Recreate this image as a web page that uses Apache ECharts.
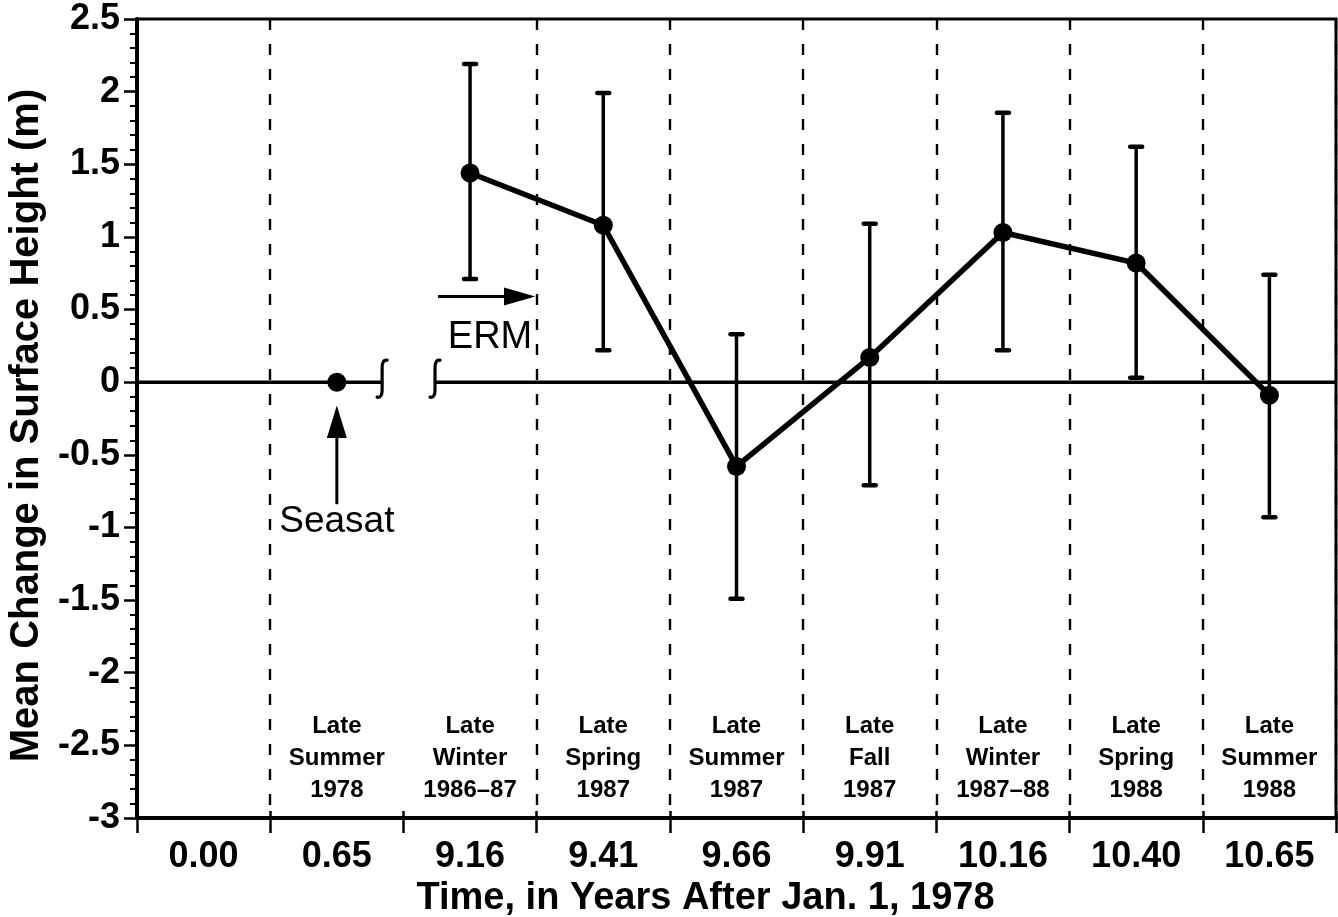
<!DOCTYPE html>
<html><head><meta charset="utf-8">
<script src="https://cdn.jsdelivr.net/npm/echarts@6/dist/echarts.min.js"></script>
<style>html,body{margin:0;padding:0;background:#fff}#c{width:1338px;height:917px}</style>
</head><body><div id="c"></div>
<script>
// ---- data ----
const categories = ['0.00', '0.65', '9.16', '9.41', '9.66', '9.91', '10.16', '10.40', '10.65'];
const seasons = ['', 'Late\nSummer\n1978', 'Late\nWinter\n1986–87', 'Late\nSpring\n1987', 'Late\nSummer\n1987',
  'Late\nFall\n1987', 'Late\nWinter\n1987–88', 'Late\nSpring\n1988', 'Late\nSummer\n1988'];
const seasatValues = [null, 0, null, null, null, null, null, null, null];
const ermValues = [null, null, 1.44, 1.08, -0.58, 0.17, 1.03, 0.82, -0.09];
const ermLow = [null, null, 0.71, 0.22, -1.49, -0.71, 0.22, 0.03, -0.93];
const ermHigh = [null, null, 2.19, 1.99, 0.33, 1.09, 1.855, 1.62, 0.74];
const yMin = -3, yMax = 2.5, yStep = 0.5;

// ---- annotation anchors (data units) ----
const breakLeft = 1.34, breakRight = 1.737;
const seasatAnno = { cat: 1, tip: -0.16, base: -0.37, tail: -0.84, label: -0.96 };
const ermAnno = { from: 1.76, headBase: 2.27, to: 2.49, y: 0.59, labelX: 2.15, labelY: 0.31 };
const seasonLabelY = -2.59;

const FONT = "'Liberation Sans', Arial, Helvetica, sans-serif";
const chart = echarts.init(document.getElementById('c'), null, { renderer: 'canvas' });

function catX(api, c) {
  const i = Math.floor(c), f = c - i;
  const a = api.coord([i, 0])[0], b = api.coord([i + 1, 0])[0];
  return a + (b - a) * f;
}

const errData = [];
ermLow.forEach((lo, i) => { if (lo != null) errData.push([i, lo, ermHigh[i]]); });

const option = {
  animation: false,
  backgroundColor: '#fff',
  grid: { left: 137, right: 2, top: 19, bottom: 99, show: true, borderColor: '#000', borderWidth: 3,
    containLabel: false, outerBoundsMode: 'none' },
  xAxis: [{
    type: 'category', data: categories, position: 'bottom', boundaryGap: true,
    name: 'Time, in Years After Jan. 1, 1978', nameLocation: 'middle', nameGap: 49,
    nameTextStyle: { fontFamily: FONT, fontWeight: 'bold', fontSize: 38, color: '#000', padding: [0, 62, 0, 0] },
    axisLine: { show: true, onZero: false, lineStyle: { color: '#000', width: 4 } },
    axisTick: { show: true, alignWithLabel: false, length: 15, lineStyle: { color: '#000', width: 2.5 } },
    axisLabel: { interval: 0, margin: 21, fontFamily: FONT, fontWeight: 'bold', fontSize: 36, color: '#000' },
    splitLine: { show: true, interval: function (i) { return i !== 0 && i !== 2; },
      lineStyle: { color: '#000', width: 2.4, type: [11, 14] } }
  }, {
    type: 'category', data: categories, position: 'bottom', offset: 0, boundaryGap: true,
    axisLine: { show: false, onZero: false }, axisLabel: { show: false }, splitLine: { show: false },
    axisTick: { show: true, inside: true, length: 7, lineStyle: { color: '#000', width: 2.5 } }
  }],
  yAxis: {
    type: 'value', min: yMin, max: yMax, interval: yStep,
    name: 'Mean Change in Surface Height (m)', nameLocation: 'middle', nameGap: 90,
    nameTextStyle: { fontFamily: FONT, fontWeight: 'bold', fontSize: 40, color: '#000', padding: [0, 14, 0, 0] },
    axisLine: { show: true, lineStyle: { color: '#000', width: 4 } },
    axisTick: { show: true, length: 13, lineStyle: { color: '#000', width: 2.5 } },
    minorTick: { show: true, splitNumber: 5, length: 7, lineStyle: { color: '#000', width: 2 } },
    axisLabel: { margin: 17, fontFamily: FONT, fontWeight: 'bold', fontSize: 36, color: '#000' },
    splitLine: { show: false }
  },
  series: [
    { // zero line with axis-break marks
      type: 'custom', silent: true, z: 1, data: [[0, 0]],
      renderItem: function (params, api) {
        const cs = params.coordSys;
        const y = api.coord([0, 0])[1];
        const bl = catX(api, breakLeft), br = catX(api, breakRight);
        const st = { stroke: '#000', lineWidth: 3.5, fill: null, lineCap: 'butt' };
        const brk = (x) => ({ type: 'path', shape: { pathData:
          `M${x + 5} ${y - 22} Q${x} ${y - 23} ${x} ${y - 14} L${x} ${y + 8} Q${x} ${y + 16} ${x - 5} ${y + 15}` },
          style: { stroke: '#000', lineWidth: 3.2, fill: null, lineCap: 'round' } });
        return { type: 'group', children: [
          { type: 'line', shape: { x1: cs.x, y1: y, x2: bl, y2: y }, style: st },
          { type: 'line', shape: { x1: br, y1: y, x2: cs.x + cs.width, y2: y }, style: st },
          brk(bl), brk(br)
        ] };
      }
    },
    { // error bars
      type: 'custom', silent: true, z: 2, data: errData,
      renderItem: function (params, api) {
        const x = api.value(0);
        const lo = api.coord([x, api.value(1)]), hi = api.coord([x, api.value(2)]);
        const st = { stroke: '#000', lineWidth: 3.5, lineCap: 'round' };
        const cw = 6;
        return { type: 'group', children: [
          { type: 'line', shape: { x1: lo[0], y1: lo[1], x2: hi[0], y2: hi[1] }, style: st },
          { type: 'line', shape: { x1: lo[0] - cw, y1: lo[1], x2: lo[0] + cw, y2: lo[1] }, style: Object.assign({}, st, { lineWidth: 4.5 }) },
          { type: 'line', shape: { x1: hi[0] - cw, y1: hi[1], x2: hi[0] + cw, y2: hi[1] }, style: Object.assign({}, st, { lineWidth: 4.5 }) }
        ] };
      }
    },
    { name: 'ERM', type: 'line', data: ermValues, z: 3, connectNulls: false,
      symbol: 'circle', symbolSize: 19, showSymbol: true,
      lineStyle: { color: '#000', width: 5.5 }, itemStyle: { color: '#000' } },
    { name: 'Seasat', type: 'line', data: seasatValues, z: 3,
      symbol: 'circle', symbolSize: 19, showSymbol: true,
      lineStyle: { width: 0 }, itemStyle: { color: '#000' } },
    { // annotations: Seasat arrow & ERM arrow + labels
      type: 'custom', silent: true, z: 4, data: [[0, 0]],
      renderItem: function (params, api) {
        const sx = api.coord([seasatAnno.cat, 0])[0];
        const tip = api.coord([seasatAnno.cat, seasatAnno.tip])[1];
        const base = api.coord([seasatAnno.cat, seasatAnno.base])[1];
        const tail = api.coord([seasatAnno.cat, seasatAnno.tail])[1];
        const ly = api.coord([seasatAnno.cat, seasatAnno.label])[1];
        const ey = api.coord([0, ermAnno.y])[1];
        const ex1 = catX(api, ermAnno.from), exb = catX(api, ermAnno.headBase), ex2 = catX(api, ermAnno.to);
        const elx = catX(api, ermAnno.labelX), ely = api.coord([0, ermAnno.labelY])[1];
        const st = { stroke: '#000', lineWidth: 3 };
        return { type: 'group', children: [
          { type: 'line', shape: { x1: sx, y1: base, x2: sx, y2: tail }, style: st },
          { type: 'polygon', shape: { points: [[sx, tip], [sx - 10, base + 2], [sx + 10, base + 2]] }, style: { fill: '#000' } },
          { type: 'text', x: sx, y: ly, style: { text: 'Seasat', fontFamily: FONT, fontSize: 37, fill: '#000', align: 'center', verticalAlign: 'middle' } },
          { type: 'line', shape: { x1: ex1, y1: ey, x2: exb, y2: ey }, style: st },
          { type: 'polygon', shape: { points: [[ex2, ey], [exb - 2, ey - 9], [exb - 2, ey + 9]] }, style: { fill: '#000' } },
          { type: 'text', x: elx, y: ely, style: { text: 'ERM', fontFamily: FONT, fontSize: 38, fill: '#000', align: 'center', verticalAlign: 'middle' } }
        ] };
      }
    },
    { // season labels
      type: 'custom', silent: true, z: 4,
      data: seasons.map((s, i) => [i, seasonLabelY]).filter((d, i) => seasons[i] !== ''),
      renderItem: function (params, api) {
        const i = api.value(0);
        const p = api.coord([i, api.value(1)]);
        return { type: 'text', x: p[0], y: p[1], style: { text: seasons[i], fontFamily: FONT, fontWeight: 'bold',
          fontSize: 24, lineHeight: 32, fill: '#000', align: 'center', verticalAlign: 'middle' } };
      }
    }
  ]
};
chart.setOption(option);
</script>
</body></html>
